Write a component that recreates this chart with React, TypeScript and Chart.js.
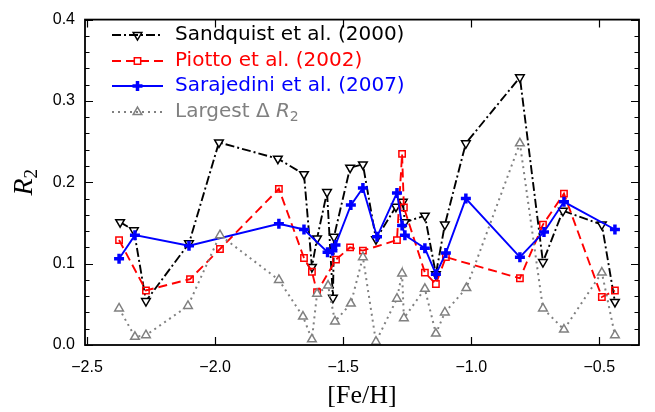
import React, { useEffect, useRef } from 'react';
import { Chart, registerables } from 'chart.js';
Chart.register(...registerables);

// ---- data ----
const sandquistX = [-2.371, -2.317, -2.270, -2.102, -1.985, -1.755, -1.653, -1.622, -1.602, -1.563, -1.540, -1.536, -1.473, -1.423, -1.372, -1.294, -1.267, -1.259, -1.181, -1.138, -1.103, -1.021, -0.810, -0.720, -0.642, -0.490, -0.439];
const sandquistY = [0.151, 0.141, 0.054, 0.125, 0.249, 0.229, 0.210, 0.096, 0.131, 0.188, 0.058, 0.133, 0.218, 0.222, 0.130, 0.170, 0.176, 0.151, 0.159, 0.087, 0.148, 0.248, 0.329, 0.102, 0.165, 0.148, 0.053];

const piottoX = [-2.375, -2.270, -2.098, -1.981, -1.751, -1.653, -1.622, -1.602, -1.528, -1.473, -1.423, -1.290, -1.270, -1.263, -1.181, -1.138, -1.099, -0.810, -0.720, -0.638, -0.490, -0.439];
const piottoY = [0.129, 0.067, 0.081, 0.118, 0.192, 0.107, 0.090, 0.065, 0.105, 0.120, 0.116, 0.129, 0.235, 0.169, 0.089, 0.075, 0.108, 0.082, 0.148, 0.186, 0.059, 0.067];

const sarajediniX = [-2.375, -2.313, -2.102, -1.751, -1.653, -1.561, -1.542, -1.530, -1.470, -1.423, -1.368, -1.290, -1.270, -1.259, -1.181, -1.138, -1.099, -1.021, -0.810, -0.716, -0.638, -0.439];
const sarajediniY = [0.106, 0.135, 0.122, 0.149, 0.142, 0.114, 0.116, 0.123, 0.172, 0.193, 0.133, 0.187, 0.147, 0.135, 0.119, 0.087, 0.113, 0.180, 0.108, 0.139, 0.176, 0.142];

const largestX = [-2.375, -2.313, -2.270, -2.106, -1.981, -1.751, -1.657, -1.622, -1.602, -1.559, -1.532, -1.470, -1.423, -1.372, -1.290, -1.270, -1.263, -1.181, -1.138, -1.103, -1.019, -0.810, -0.720, -0.638, -0.490, -0.439];
const largestY = [0.045, 0.010, 0.012, 0.048, 0.135, 0.080, 0.035, 0.007, 0.063, 0.073, 0.029, 0.051, 0.108, 0.004, 0.057, 0.088, 0.033, 0.069, 0.014, 0.040, 0.070, 0.248, 0.045, 0.019, 0.089, 0.012];

const seriesLabels = ['Sandquist et al. (2000)', 'Piotto et al. (2002)', 'Sarajedini et al. (2007)', 'Largest \u0394 '];
const xTicks = [-2.5, -2.0, -1.5, -1.0, -0.5];
const yTicks = [0.0, 0.1, 0.2, 0.3, 0.4];
const yMinorTicks = [0.02, 0.04, 0.06, 0.08, 0.12, 0.14, 0.16, 0.18, 0.22, 0.24, 0.26, 0.28, 0.32, 0.34, 0.36, 0.38];
const xLabel = '[Fe/H]';

const X_MIN = -2.508;
const X_MAX = -0.345;

const toPts = (xs: number[], ys: number[]) => xs.map((x, i) => ({ x, y: ys[i] }));
const fmt = (v: number) => v.toFixed(1).replace('-', '\u2212');

const GRAY = '#808080';

type Sty = { color: string; dash: number[]; width: number; marker: string; rot: number; radius: number; mw: number };
const styles: Sty[] = [
  { color: '#000000', dash: [9, 3, 2, 3], width: 1.9, marker: 'triangle', rot: 180, radius: 5, mw: 1.5 },
  { color: '#ff0000', dash: [9, 5], width: 1.9, marker: 'rect', rot: 0, radius: 4.5, mw: 1.5 },
  { color: '#0000ff', dash: [], width: 1.9, marker: 'cross', rot: 0, radius: 5, mw: 3.5 },
  { color: GRAY, dash: [2, 4], width: 2, marker: 'triangle', rot: 0, radius: 5, mw: 1.5 },
];

function drawMarker(ctx: CanvasRenderingContext2D, s: Sty, x: number, y: number) {
  ctx.save();
  ctx.setLineDash([]);
  ctx.strokeStyle = s.color;
  ctx.lineWidth = s.mw;
  ctx.beginPath();
  const r = s.radius;
  if (s.marker === 'triangle') {
    let rad = (s.rot * Math.PI) / 180;
    ctx.moveTo(x + Math.sin(rad) * r, y - Math.cos(rad) * r);
    rad += (2 * Math.PI) / 3;
    ctx.lineTo(x + Math.sin(rad) * r, y - Math.cos(rad) * r);
    rad += (2 * Math.PI) / 3;
    ctx.lineTo(x + Math.sin(rad) * r, y - Math.cos(rad) * r);
    ctx.closePath();
    ctx.fillStyle = '#fff';
  } else if (s.marker === 'rect') {
    const h = r * Math.SQRT1_2;
    ctx.rect(x - h, y - h, 2 * h, 2 * h);
  } else {
    ctx.moveTo(x, y - r);
    ctx.lineTo(x, y + r);
    ctx.moveTo(x - r, y);
    ctx.lineTo(x + r, y);
  }
  ctx.stroke();
  ctx.restore();
}

const decorPlugin = {
  id: 'decor',
  afterDatasetsDraw(chart: any) {
    const { ctx, chartArea: a, scales } = chart;
    const xs = scales.x;
    const ys = scales.y;
    ctx.save();
    ctx.strokeStyle = '#000';
    ctx.lineWidth = 1.2;
    ctx.setLineDash([]);
    ctx.beginPath();
    const MAJ = 8;
    const MIN = 4.5;
    for (const v of xTicks) {
      const px = Math.round(xs.getPixelForValue(v)) + 0.5;
      ctx.moveTo(px, a.bottom);
      ctx.lineTo(px, a.bottom - MAJ);
      ctx.moveTo(px, a.top);
      ctx.lineTo(px, a.top + MAJ);
    }
    for (const v of yTicks) {
      const py = Math.round(ys.getPixelForValue(v)) + 0.5;
      ctx.moveTo(a.left, py);
      ctx.lineTo(a.left + MAJ, py);
      ctx.moveTo(a.right, py);
      ctx.lineTo(a.right - MAJ, py);
    }
    for (const v of yMinorTicks) {
      const py = Math.round(ys.getPixelForValue(v)) + 0.5;
      ctx.moveTo(a.left, py);
      ctx.lineTo(a.left + MIN, py);
      ctx.moveTo(a.right, py);
      ctx.lineTo(a.right - MIN, py);
    }
    ctx.stroke();
    ctx.lineWidth = 1.8;
    ctx.strokeRect(a.left, a.top, a.right - a.left, a.bottom - a.top);

    // legend
    const lx0 = 112;
    const lx1 = 163;
    const tx = 175;
    const rows = [35, 61, 86, 112];
    styles.forEach((s, i) => {
      const y = rows[i];
      ctx.save();
      ctx.strokeStyle = s.color;
      ctx.lineWidth = s.width;
      ctx.setLineDash(s.dash);
      ctx.beginPath();
      ctx.moveTo(lx0, y);
      ctx.lineTo(lx1, y);
      ctx.stroke();
      ctx.restore();
      drawMarker(ctx, s, (lx0 + lx1) / 2, y);
      ctx.fillStyle = s.color;
      ctx.textBaseline = 'middle';
      ctx.textAlign = 'left';
      ctx.font = '20px "DejaVu Sans"';
      ctx.fillText(seriesLabels[i], tx, y);
      if (i === 3) {
        const w = ctx.measureText(seriesLabels[i]).width;
        ctx.font = 'italic 20px "DejaVu Sans"';
        ctx.fillText('R', tx + w, y);
        const w2 = ctx.measureText('R').width;
        ctx.font = '14px "DejaVu Sans"';
        ctx.fillText('2', tx + w + w2, y + 5);
      }
    });

    // axis titles
    ctx.fillStyle = '#000';
    ctx.textAlign = 'center';
    ctx.textBaseline = 'alphabetic';
    ctx.font = '26px "Liberation Serif"';
    ctx.fillText(xLabel, (a.left + a.right) / 2, 403);

    ctx.save();
    ctx.translate(32, (a.top + a.bottom) / 2);
    ctx.rotate(-Math.PI / 2);
    ctx.textAlign = 'left';
    ctx.font = 'italic 28px "Liberation Serif"';
    const rw = ctx.measureText('R').width;
    ctx.font = '19px "Liberation Serif"';
    const sw = ctx.measureText('2').width;
    const start = -(rw + sw) / 2;
    ctx.font = 'italic 28px "Liberation Serif"';
    ctx.fillText('R', start, 0);
    ctx.font = '19px "Liberation Serif"';
    ctx.fillText('2', start + rw, 5);
    ctx.restore();

    ctx.restore();
  },
};

export default function App() {
  const ref = useRef<HTMLCanvasElement | null>(null);
  useEffect(() => {
    if (!ref.current) return;
    const all = [
      toPts(sandquistX, sandquistY),
      toPts(piottoX, piottoY),
      toPts(sarajediniX, sarajediniY),
      toPts(largestX, largestY),
    ];
    const chart = new Chart(ref.current, {
      type: 'scatter',
      data: {
        datasets: all.map((d, i) => {
          const s = styles[i];
          return {
            label: seriesLabels[i],
            data: d,
            showLine: true,
            borderColor: s.color,
            backgroundColor: s.marker === 'triangle' ? '#ffffff' : 'rgba(0,0,0,0)',
            borderWidth: s.width,
            borderDash: s.dash,
            pointStyle: s.marker,
            rotation: s.rot,
            pointRadius: s.radius,
            pointBorderWidth: s.mw,
            pointBorderColor: s.color,
            pointBackgroundColor: s.marker === 'triangle' ? '#ffffff' : 'rgba(0,0,0,0)',
            pointHoverRadius: s.radius,
            tension: 0,
            order: 4 - i,
          } as any;
        }),
      },
      options: {
        animation: false,
        responsive: false,
        devicePixelRatio: 1,
        layout: { padding: { left: 0, right: 16, top: 13, bottom: 0 } },
        plugins: { legend: { display: false }, tooltip: { enabled: false } },
        scales: {
          x: {
            type: 'linear',
            min: X_MIN,
            max: X_MAX,
            grid: { display: false, drawTicks: false },
            border: { display: false },
            afterBuildTicks: (sc: any) => {
              sc.ticks = xTicks.map((v) => ({ value: v }));
            },
            afterFit: (sc: any) => {
              sc.height = 67;
            },
            ticks: {
              autoSkip: false,
              maxRotation: 0,
              padding: 13,
              color: '#000',
              font: { family: '"Liberation Sans"', size: 16 },
              callback: (v: any) => fmt(Number(v)),
            },
          },
          y: {
            type: 'linear',
            min: 0,
            max: 0.4,
            grid: { display: false, drawTicks: false },
            border: { display: false },
            afterBuildTicks: (sc: any) => {
              sc.ticks = yTicks.map((v) => ({ value: v }));
            },
            afterFit: (sc: any) => {
              sc.width = 85;
            },
            ticks: {
              autoSkip: false,
              padding: 10,
              color: '#000',
              font: { family: '"Liberation Sans"', size: 16 },
              callback: (v: any) => Number(v).toFixed(1),
            },
          },
        },
      },
      plugins: [decorPlugin],
    });
    return () => chart.destroy();
  }, []);
  return (
    <div style={{ position: 'fixed', left: 0, top: 0, width: 655, height: 412, background: '#fff' }}>
      <canvas ref={ref} width={655} height={412} style={{ display: 'block', width: 655, height: 412 }} />
    </div>
  );
}
